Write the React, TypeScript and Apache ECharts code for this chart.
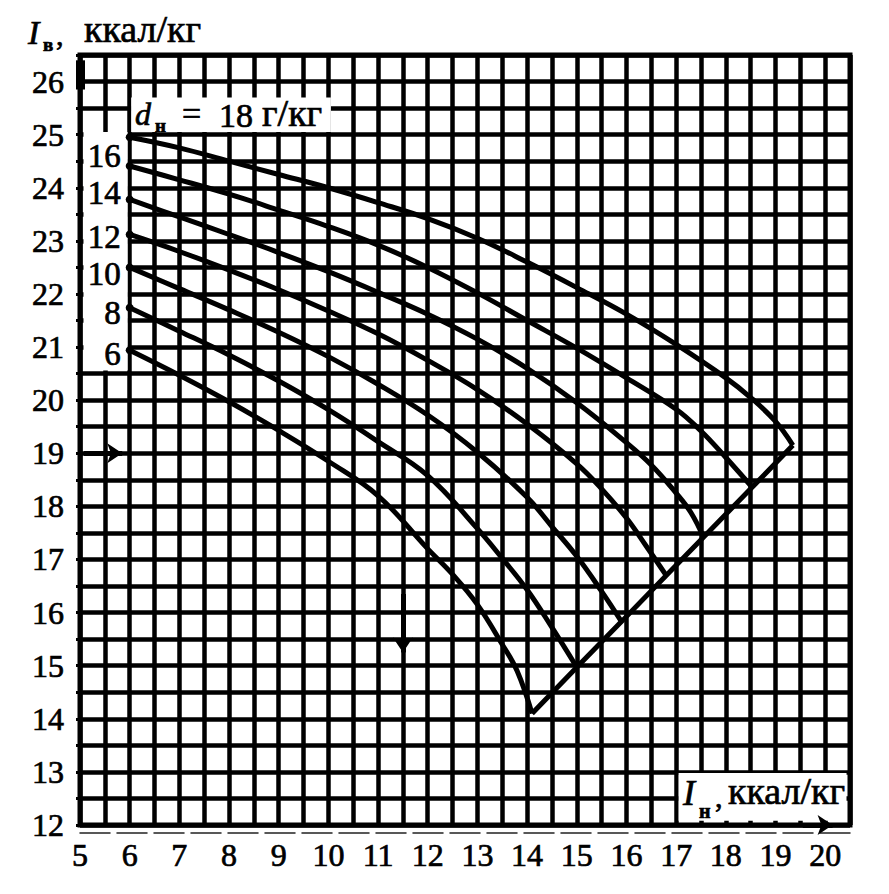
import React, { useEffect, useRef } from "react";
import * as echarts from "echarts";

// Tick labels
const xTicks = [5, 6, 7, 8, 9, 10, 11, 12, 13, 14, 15, 16, 17, 18, 19, 20];
const yTicks = [12, 13, 14, 15, 16, 17, 18, 19, 20, 21, 22, 23, 24, 25, 26];

// Curve labels d_н, г/кг
const dLabels = ["6", "8", "10", "12", "14", "16", "18"];

// Curves: [I_н, I_в]
const curve6 = [[6, 20.94], [7, 20.47], [8, 19.97], [9, 19.43], [10, 18.85], [11, 18.2], [12, 17.2], [12.5, 16.72], [13, 16.15], [13.5, 15.4], [13.8, 14.9], [14.1, 14.1]];
const curve8 = [[6, 21.74], [7, 21.3], [8, 20.85], [9, 20.36], [10, 19.82], [11, 19.22], [12, 18.58], [13, 17.58], [13.5, 17.02], [14, 16.43], [14.5, 15.72], [15, 14.97]];
const curve10 = [[6, 22.5], [7, 22.1], [8, 21.7], [9, 21.28], [10, 20.82], [11, 20.3], [12, 19.72], [13, 19.02], [14, 18.17], [14.5, 17.62], [15, 17.06], [15.5, 16.4], [15.9, 15.83]];
const curve12 = [[6, 23.12], [7, 22.8], [8, 22.45], [9, 22.08], [10, 21.68], [11, 21.25], [12, 20.75], [13, 20.2], [14, 19.55], [15, 18.8], [15.5, 18.33], [16, 17.78], [16.4, 17.25], [16.8, 16.7]];
const curve14 = [[6, 23.78], [7, 23.45], [8, 23.12], [9, 22.78], [10, 22.42], [11, 22.03], [12, 21.62], [13, 21.15], [14, 20.6], [15, 19.95], [16, 19.2], [16.5, 18.78], [17, 18.25], [17.3, 17.88], [17.55, 17.42]];
const curve16 = [[6, 24.41], [7, 24.15], [8, 23.88], [9, 23.58], [10, 23.27], [11, 22.92], [12, 22.5], [13, 22.02], [14, 21.5], [15, 20.98], [16, 20.42], [17, 19.83], [17.5, 19.42], [18, 18.92], [18.53, 18.36]];
const curve18 = [[6, 24.95], [7, 24.75], [8, 24.5], [9, 24.25], [10, 24.0], [11, 23.72], [12, 23.42], [13, 23.05], [14, 22.6], [15, 22.12], [16, 21.62], [17, 21.05], [18, 20.42], [18.5, 20.05], [19, 19.6], [19.35, 19.15]];

const curves = [curve6, curve8, curve10, curve12, curve14, curve16, curve18];

// Annotation arrows on the chart: [from, to]
const arrowMarks = [
  [[5.08, 19], [5.85, 19]],
  [[11.5, 16.35], [11.5, 15.25]],
  [[19.55, 12], [20.15, 12]],
];

// Thick stroke on the I_в axis near its top
const axisStub = [[5, 25.85], [5, 26.4]];

// White boxes behind texts (data coords)
const whiteBoxes = [
  [[5.07, 20.56], [5.96, 25.05]],
  [[6.03, 25.05], [10.05, 25.7]],
  [[17.05, 12.08], [20.43, 12.98]],
];

const FONT = '"Liberation Serif", "DejaVu Serif", "Times New Roman", serif';

// style only
const startLabelDy = [4, 5, 7, 3, -6, -10];

function txt(text: string, x: number, y: number, size: number, italic = false, bold = false) {
  return {
    type: "text",
    x,
    y,
    silent: true,
    z: 100,
    style: {
      text,
      fill: "#000",
      fontSize: size,
      fontFamily: FONT,
      fontStyle: italic ? "italic" : "normal",
      fontWeight: bold ? "bold" : "normal",
      textAlign: "left",
      textVerticalAlign: "middle",
      align: "left",
      verticalAlign: "middle",
      stroke: "#000",
      lineWidth: 0.7,
    },
  };
}

export default function App() {
  const ref = useRef<HTMLDivElement>(null);

  useEffect(() => {
    if (!ref.current) return;
    const chart = echarts.init(ref.current, null, { renderer: "svg" });

    const curveSeries = curves.map((c, ci) => ({
      type: "line",
      name: "d=" + dLabels[ci],
      silent: true,
      smooth: 0.4,
      symbol: "none",
      showSymbol: true,
      z: 3,
      lineStyle: { color: "#000", width: 5 },
      itemStyle: { color: "#000" },
      data: c.map((p, i) =>
        i === 0
          ? {
              value: p,
              symbol: "circle",
              symbolSize: 8,
              label:
                ci < curves.length - 1
                  ? {
                      show: true,
                      position: "left",
                      distance: 5,
                      offset: [0, startLabelDy[ci]],
                      formatter: dLabels[ci],
                      fontSize: 33,
                      fontFamily: FONT,
                      color: "#000",
                      textBorderColor: "#000",
                      textBorderWidth: 0.7,
                    }
                  : { show: false },
            }
          : p
      ),
    }));

    const boundary = curves.map((c) => c[c.length - 1]);

    const option = {
      animation: false,
      backgroundColor: "#fff",
      grid: {
        left: 80,
        right: 39,
        top: 55,
        bottom: 69,
        show: true,
        backgroundColor: "#fff",
        borderColor: "#000",
        borderWidth: 5,
      },
      xAxis: {
        type: "value",
        min: 5,
        max: 20.5,
        interval: 0.5,
        offset: 8,
        axisLine: { show: true, lineStyle: { color: "#222", width: 1.5, type: [30, 7] } },
        axisTick: { show: false },
        splitLine: { show: true, lineStyle: { color: "#000", width: 4.5 } },
        axisLabel: {
          margin: 6,
          fontSize: 32,
          fontFamily: FONT,
          color: "#000",
          textBorderColor: "#000",
          textBorderWidth: 0.7,
          formatter: (v: number) => (xTicks.includes(v) ? String(v) : ""),
        },
      },
      yAxis: {
        type: "value",
        min: 12,
        max: 26.5,
        interval: 0.5,
        axisLine: { show: false },
        axisTick: { show: true, length: 4, lineStyle: { color: "#000", width: 3 } },
        splitLine: { show: true, lineStyle: { color: "#000", width: 4.5 } },
        axisLabel: {
          margin: 16,
          fontSize: 32,
          fontFamily: FONT,
          color: "#000",
          textBorderColor: "#000",
          textBorderWidth: 0.7,
          formatter: (v: number) => (yTicks.includes(v) ? String(v) : ""),
        },
      },
      series: [
        {
          type: "line",
          name: "boundary",
          silent: true,
          symbol: "none",
          z: 3,
          lineStyle: { color: "#000", width: 5 },
          data: boundary,
          markArea: {
            silent: true,
            itemStyle: { color: "#fff" },
            data: whiteBoxes.map((b) => [{ coord: b[0] }, { coord: b[1] }]),
          },
          markLine: {
            silent: true,
            symbol: ["none", "arrow"],
            symbolSize: 15,
            label: { show: false },
            lineStyle: { color: "#000", width: 5, type: "solid" },
            data: [
              ...arrowMarks.map((a) => [{ coord: a[0] }, { coord: a[1] }]),
              [
                { coord: axisStub[0], symbol: "none" },
                { coord: axisStub[1], symbol: "none", lineStyle: { width: 9 } },
              ],
            ],
          },
        },
        ...curveSeries,
      ],
      graphic: [
        txt("I", 28, 32, 34, true),
        txt("в", 43, 44, 19, false, true),
        txt(",", 56, 34, 30),
        txt("ккал/кг", 84, 29, 38),
        txt("d", 135, 114, 32, true),
        txt("н", 155, 125, 19, false, true),
        txt("=", 182, 113, 34),
        txt("18", 219, 115, 34),
        txt("г/кг", 262, 113, 38),
        txt("I", 683, 793, 36, true),
        txt("н", 699, 811, 20, false, true),
        txt(",", 715, 796, 30),
        txt("ккал/кг", 728, 791, 38),
      ],
    };

    chart.setOption(option as any);
    return () => chart.dispose();
  }, []);

  return (
    <div
      ref={ref}
      style={{ position: "fixed", left: 0, top: 0, width: 889, height: 894, background: "#fff" }}
    />
  );
}
